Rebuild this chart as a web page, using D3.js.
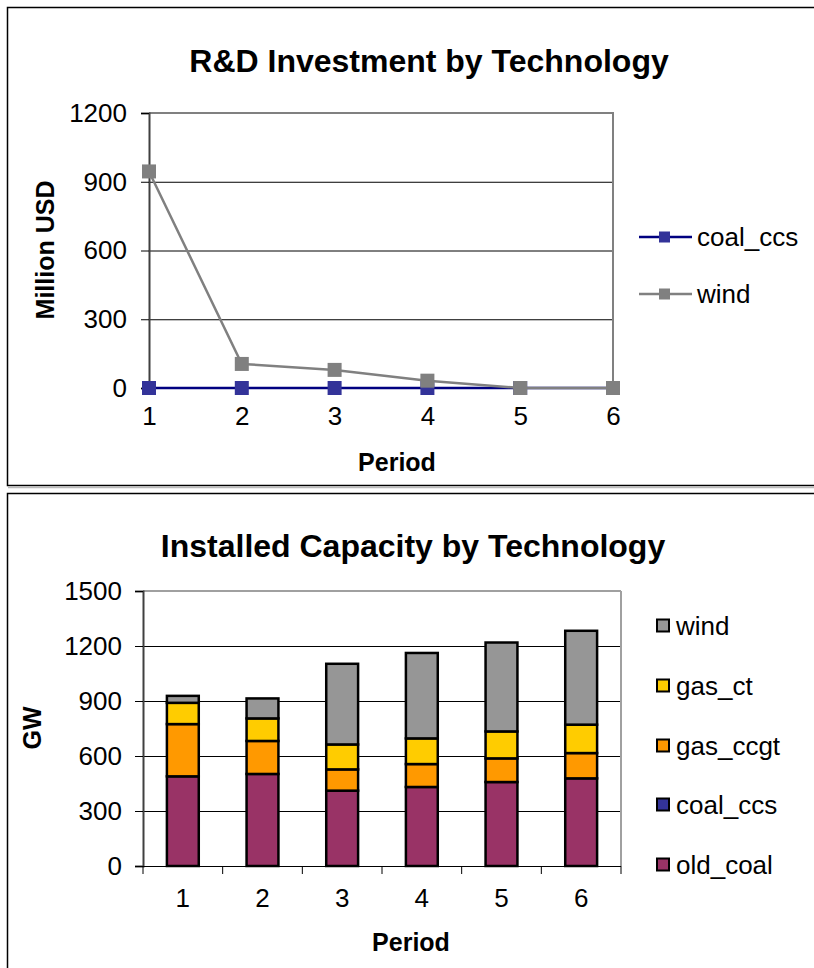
<!DOCTYPE html>
<html>
<head>
<meta charset="utf-8">
<script src="https://cdn.jsdelivr.net/npm/d3@7"></script>
<style>
  html, body { margin: 0; padding: 0; background: #fff; }
  svg { display: block; font-family: "Liberation Sans", Arial, sans-serif; }
</style>
</head>
<body>
<svg id="chart" width="814" height="968"></svg>
<script>
// ---------- Data ----------
const periods = [1, 2, 3, 4, 5, 6];

// R&D investment (Million USD)
const rdSeries = ["coal_ccs", "wind"];
const rdCoalCcs = [0, 0, 0, 0, 0, 0];
const rdWind = [945, 105, 79, 32, 0, 0];
const rdTicks = [0, 300, 600, 900, 1200];

// Installed capacity (GW)
const capSeries = ["old_coal", "coal_ccs", "gas_ccgt", "gas_ct", "wind"];
const capOldCoal = [489, 502, 411, 431, 458, 478];
const capCoalCcs = [0, 0, 0, 0, 0, 0];
const capGasCcgt = [285, 180, 116, 125, 129, 138];
const capGasCt = [116, 123, 136, 140, 147, 155];
const capWind = [38, 109, 440, 466, 485, 512];
const capTicks = [0, 300, 600, 900, 1200, 1500];

const capColors = {
  old_coal: "#993366",
  coal_ccs: "#333399",
  gas_ccgt: "#FF9900",
  gas_ct: "#FFCC00",
  wind: "#969696"
};

const svg = d3.select("#chart");
const FONT = 26;      // tick labels, legend
const TFONT = 25;     // axis titles
const HFONT = 32;     // chart titles
const FF = "Liberation Sans, Arial, sans-serif";
const fmt = d3.format("d");

// ---------- Outer chart boxes ----------
svg.append("rect").attr("x", 7.5).attr("y", 7.5).attr("width", 830).attr("height", 478)
  .attr("fill", "#fff").attr("stroke", "#000").attr("stroke-width", 1.5);
svg.append("line").attr("x1", 8).attr("x2", 830).attr("y1", 487.5).attr("y2", 487.5)
  .attr("stroke", "#bbb").attr("stroke-width", 1.5);
svg.append("rect").attr("x", 7.5).attr("y", 493.5).attr("width", 830).attr("height", 500)
  .attr("fill", "#fff").attr("stroke", "#000").attr("stroke-width", 1.5);

// =================== TOP CHART ===================
{
  const x = d3.scalePoint().domain(periods).range([149, 613]);
  const y = d3.scaleLinear().domain([0, 1200]).range([388, 113]);
  const g = svg.append("g");

  g.append("text").attr("x", 429).attr("y", 72).attr("text-anchor", "middle")
    .attr("font-size", HFONT).attr("font-weight", "bold").text("R&D Investment by Technology");

  // gridlines
  g.selectAll(".grid").data(rdTicks.filter(t => t > 0 && t < 1200)).join("line")
    .attr("x1", 149).attr("x2", 613).attr("y1", d => y(d) + 0.5).attr("y2", d => y(d) + 0.5)
    .attr("stroke", "#000").attr("stroke-width", 1);
  g.append("line").attr("x1", 149).attr("x2", 613).attr("y1", y(0) + 0.5).attr("y2", y(0) + 0.5)
    .attr("stroke", "#000").attr("stroke-width", 1);
  // plot border top/right
  g.append("path").attr("d", `M149,${y(1200)}H613V${y(0)}`)
    .attr("fill", "none").attr("stroke", "#808080").attr("stroke-width", 2);

  // y axis
  const yAxis = d3.axisLeft(y).tickValues(rdTicks).tickFormat(fmt).tickSize(8).tickPadding(14);
  const ya = g.append("g").attr("transform", "translate(149,0)").call(yAxis);
  ya.select(".domain").attr("stroke", "#404040").attr("stroke-width", 2);
  ya.selectAll(".tick line").attr("stroke", "#000");
  ya.selectAll("text").attr("font-size", FONT).attr("font-family", FF).attr("fill", "#000");

  // x axis labels
  const xAxis = d3.axisBottom(x).tickSize(0).tickPadding(19);
  const xa = g.append("g").attr("transform", `translate(0,${y(0)})`).call(xAxis);
  xa.select(".domain").remove();
  xa.selectAll("text").attr("font-size", FONT).attr("font-family", FF).attr("fill", "#000");

  // axis titles
  g.append("text").attr("transform", "translate(54,250) rotate(-90)").attr("text-anchor", "middle")
    .attr("font-size", TFONT).attr("font-weight", "bold").text("Million USD");
  g.append("text").attr("x", 397).attr("y", 471).attr("text-anchor", "middle")
    .attr("font-size", TFONT).attr("font-weight", "bold").text("Period");

  const line = d3.line().x((d, i) => x(periods[i])).y(d => y(d));
  const series = [
    { name: "coal_ccs", values: rdCoalCcs, line: "#000080", marker: "#333399" },
    { name: "wind", values: rdWind, line: "#808080", marker: "#808080" }
  ];
  const ms = 14;
  series.forEach(s => {
    g.append("path").attr("d", line(s.values)).attr("fill", "none")
      .attr("stroke", s.line).attr("stroke-width", 2.5);
    g.selectAll(null).data(s.values).join("rect")
      .attr("x", (d, i) => x(periods[i]) - ms / 2).attr("y", d => y(d) - ms / 2)
      .attr("width", ms).attr("height", ms).attr("fill", s.marker);
  });

  // legend
  const legY = [237, 294];
  series.forEach((s, i) => {
    const lg = g.append("g").attr("transform", `translate(0,${legY[i]})`);
    lg.append("line").attr("x1", 639).attr("x2", 692).attr("stroke", s.line).attr("stroke-width", 2.5);
    lg.append("rect").attr("x", 659).attr("y", -5.5).attr("width", 11).attr("height", 11).attr("fill", s.marker);
    lg.append("text").attr("x", 697).attr("y", 9).attr("font-size", FONT).text(s.name);
  });
}

// =================== BOTTOM CHART ===================
{
  const x = d3.scaleBand().domain(periods).range([143, 621]).paddingInner(0.6).paddingOuter(0.3);
  const y = d3.scaleLinear().domain([0, 1500]).range([866, 591]);
  const g = svg.append("g");

  g.append("text").attr("x", 413).attr("y", 557).attr("text-anchor", "middle")
    .attr("font-size", HFONT).attr("font-weight", "bold").text("Installed Capacity by Technology");

  g.selectAll(".grid").data(capTicks.filter(t => t > 0 && t < 1500)).join("line")
    .attr("x1", 143).attr("x2", 621).attr("y1", d => y(d) + 0.5).attr("y2", d => y(d) + 0.5)
    .attr("stroke", "#000").attr("stroke-width", 1);
  g.append("line").attr("x1", 143).attr("x2", 621).attr("y1", y(1500)).attr("y2", y(1500))
    .attr("stroke", "#808080").attr("stroke-width", 1.5);
  g.append("line").attr("x1", 621).attr("x2", 621).attr("y1", y(1500)).attr("y2", y(0))
    .attr("stroke", "#a0a0a0").attr("stroke-width", 2);

  // y axis
  const yAxis = d3.axisLeft(y).tickValues(capTicks).tickFormat(fmt).tickSize(8).tickPadding(13);
  const ya = g.append("g").attr("transform", "translate(143,0)").call(yAxis);
  ya.select(".domain").attr("stroke", "#404040").attr("stroke-width", 2);
  ya.selectAll(".tick line").attr("stroke", "#000");
  ya.selectAll("text").attr("font-size", FONT).attr("font-family", FF).attr("fill", "#000");

  // x axis
  const xa = g.append("g").attr("transform", `translate(0,${y(0)})`)
    .call(d3.axisBottom(x).tickSize(0).tickPadding(23));
  xa.select(".domain").remove();
  xa.selectAll("text").attr("font-size", FONT).attr("font-family", FF).attr("fill", "#000");
  g.append("line").attr("x1", 143).attr("x2", 621).attr("y1", y(0) + 0.5).attr("y2", y(0) + 0.5)
    .attr("stroke", "#000").attr("stroke-width", 1);
  const step = x.step();
  const bounds = d3.range(periods.length + 1).map(i => 143 + i * step);
  g.selectAll(".xt").data(bounds).join("line")
    .attr("x1", d => d).attr("x2", d => d).attr("y1", y(0)).attr("y2", y(0) + 8)
    .attr("stroke", "#000").attr("stroke-width", 1);

  g.append("text").attr("transform", "translate(41,728) rotate(-90)").attr("text-anchor", "middle")
    .attr("font-size", TFONT).attr("font-weight", "bold").text("GW");
  g.append("text").attr("x", 411).attr("y", 951).attr("text-anchor", "middle")
    .attr("font-size", TFONT).attr("font-weight", "bold").text("Period");

  // stacked bars
  const rows = periods.map((p, i) => ({
    period: p,
    old_coal: capOldCoal[i], coal_ccs: capCoalCcs[i], gas_ccgt: capGasCcgt[i],
    gas_ct: capGasCt[i], wind: capWind[i]
  }));
  const stack = d3.stack().keys(capSeries)(rows);
  stack.forEach(layer => {
    g.selectAll(null).data(layer.filter(d => d[1] - d[0] > 0)).join("rect")
      .attr("x", d => x(d.data.period)).attr("width", x.bandwidth())
      .attr("y", d => y(d[1])).attr("height", d => y(d[0]) - y(d[1]))
      .attr("fill", capColors[layer.key]).attr("stroke", "#000").attr("stroke-width", 2.5);
  });

  // legend (reverse order)
  const legKeys = capSeries.slice().reverse();
  const legY = [626, 686, 746, 805, 865];
  legKeys.forEach((k, i) => {
    const lg = g.append("g").attr("transform", `translate(0,${legY[i]})`);
    lg.append("rect").attr("x", 657).attr("y", -6.5).attr("width", 12).attr("height", 12)
      .attr("fill", capColors[k]).attr("stroke", "#000").attr("stroke-width", 2);
    lg.append("text").attr("x", 676).attr("y", 9).attr("font-size", FONT).text(k);
  });
}
</script>
</body>
</html>
